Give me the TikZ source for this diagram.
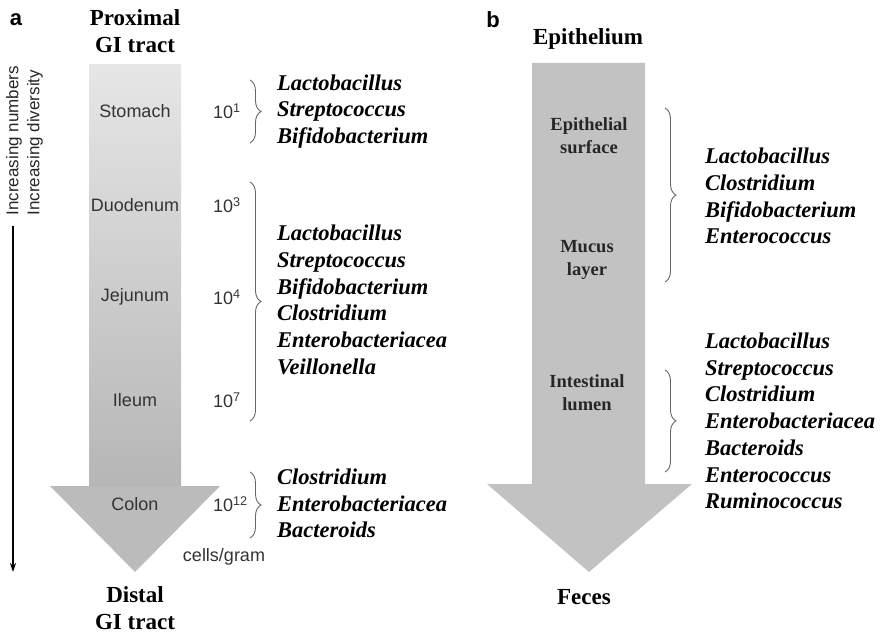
\documentclass[tikz,border=0pt]{standalone}
\usepackage{fontspec}
\setmainfont{Liberation Serif}
\setsansfont{Liberation Sans}
\usetikzlibrary{decorations.pathreplacing,arrows.meta}

\definecolor{shafttop}{HTML}{E6E6E6}
\definecolor{shaftbot}{HTML}{B6B6B6}
\definecolor{headgray}{HTML}{BBBBBB}
\definecolor{lumengray}{HTML}{C2C2C2}

\tikzset{
  region/.style={font=\sffamily\fontsize{18}{20}\selectfont, text=black!80},
  count/.style={font=\sffamily\fontsize{18}{20}\selectfont, text=black!80, anchor=west, inner sep=0pt},
  species/.style={font=\bfseries\itshape\fontsize{22.5}{26.7}\selectfont, align=left, anchor=west, inner sep=0pt},
  heading/.style={font=\bfseries\fontsize{23}{27}\selectfont, align=center, inner sep=1pt},
  layer/.style={font=\bfseries\fontsize{18.5}{23}\selectfont, align=center, text=black!85},
  panel/.style={font=\sffamily\bfseries\fontsize{22}{24}\selectfont},
  grpbrace/.style={draw=black!60, line width=0.9pt, decorate, decoration={brace, amplitude=11pt}},
}

\begin{document}
\begin{tikzpicture}[x=1pt, y=-1pt]
  \useasboundingbox (0,0) rectangle (886,634);

  % panel a
  \node[panel] (pa) at (16,20) {a};
  \node[heading] (proximal) at (135,31) {Proximal\\GI tract};
  \shade[top color=shafttop, bottom color=shaftbot] (89,65) rectangle (181,486.5);
  \fill[headgray] (50,486) -- (220,486) -- (135,572) -- cycle;
  \node[heading] (distal) at (135,608) {Distal\\GI tract};

  \node[region] (stomach) at (135,111) {Stomach};
  \node[region] (duodenum) at (135,205) {Duodenum};
  \node[region] (jejunum) at (135,297) {Jejunum};
  \node[region] (ileum) at (135,400) {Ileum};
  \node[region] (colon) at (135,504) {Colon};

  \node[count] (n1) at (213,111) {10\textsuperscript{1}};
  \node[count] (n3) at (213,205) {10\textsuperscript{3}};
  \node[count] (n4) at (213,297) {10\textsuperscript{4}};
  \node[count] (n7) at (213,400) {10\textsuperscript{7}};
  \node[count] (n12) at (213,504) {10\textsuperscript{12}};
  \node[region] (cells) at (224,557) {cells/gram};

  % numbers and diversity
  \coordinate (top) at (13,226);
  \coordinate (bottom) at (13,572);
  \draw[line width=1.4pt, -{Stealth[length=9pt,width=6pt]}] (top) -- (bottom);
  \node[region, font=\sffamily\fontsize{17}{19}\selectfont, rotate=90, anchor=west, text=black!85] (numbers) at (14,219) {Increasing numbers};
  \node[region, font=\sffamily\fontsize{17}{19}\selectfont, rotate=90, anchor=west, text=black!85] (diversity) at (35,219) {Increasing diversity};

  \coordinate (b1s) at (250,80);  \coordinate (b1e) at (250,143);
  \coordinate (b2s) at (250,182); \coordinate (b2e) at (250,421);
  \coordinate (b3s) at (250,472); \coordinate (b3e) at (250,538);
  \draw[grpbrace] (b1s) -- (b1e);
  \draw[grpbrace] (b2s) -- (b2e);
  \draw[grpbrace] (b3s) -- (b3e);

  \node[species] (grp1) at (277,111.5) {Lactobacillus\\Streptococcus\\Bifidobacterium};
  \node[species] (grp2) at (277,300) {Lactobacillus\\Streptococcus\\Bifidobacterium\\Clostridium\\Enterobacteriacea\\Veillonella};
  \node[species] (grp3) at (277,503.5) {Clostridium\\Enterobacteriacea\\Bacteroids};

  % panel b
  \node[panel] (pb) at (493,20) {b};
  \node[heading] (epithelium) at (588,39) {Epithelium};
  \fill[lumengray] (532,63) -- (645,63) -- (645,484) -- (692,484) -- (589,572)
    -- (487,484) -- (532,484) -- cycle;
  \node[heading] (feces) at (584,597) {Feces};

  \node[layer] (surface) at (589,136) {Epithelial\\surface};
  \node[layer] (mucus) at (587,260) {Mucus\\layer};
  \node[layer] (lumen) at (587,393) {Intestinal\\lumen};

  \coordinate (b4s) at (665,108); \coordinate (b4e) at (665,282);
  \coordinate (b5s) at (665,370); \coordinate (b5e) at (665,472);
  \draw[grpbrace] (b4s) -- (b4e);
  \draw[grpbrace] (b5s) -- (b5e);

  \node[species] (grp4) at (705,196) {Lactobacillus\\Clostridium\\Bifidobacterium\\Enterococcus};
  \node[species] (grp5) at (705,421) {Lactobacillus\\Streptococcus\\Clostridium\\Enterobacteriacea\\Bacteroids\\Enterococcus\\Ruminococcus};
\end{tikzpicture}
\end{document}
